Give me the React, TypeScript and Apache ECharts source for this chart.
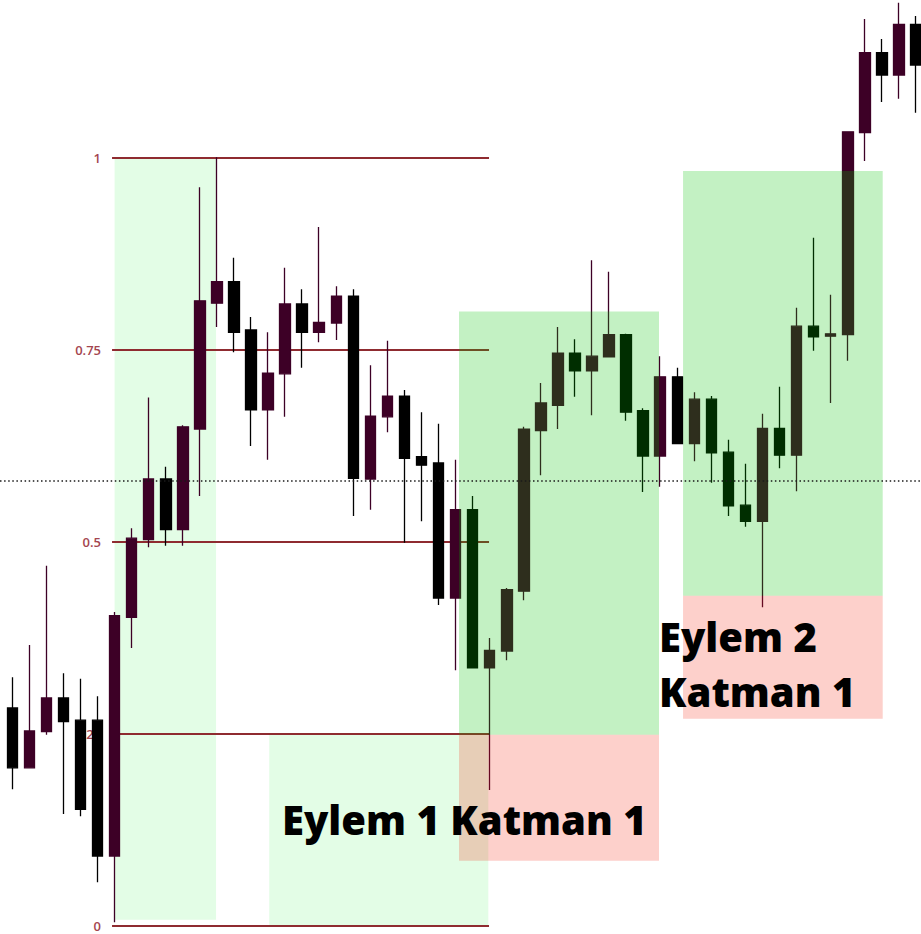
import React, { useEffect, useRef } from "react";
import * as echarts from "echarts";

// Candles (price expressed in Fibonacci units of the drawn retracement; index = bar number)
const opens = [0.284, 0.206, 0.253, 0.297, 0.268, 0.268, 0.091, 0.402, 0.503, 0.582,
  0.516, 0.647, 0.811, 0.839, 0.776, 0.672, 0.719, 0.810, 0.773, 0.785,
  0.820, 0.582, 0.663, 0.690, 0.611, 0.603, 0.427, 0.542, 0.336, 0.358,
  0.436, 0.645, 0.678, 0.746, 0.723, 0.741, 0.770, 0.671, 0.612, 0.715,
  0.628, 0.686, 0.617, 0.548, 0.527, 0.648, 0.613, 0.781, 0.768, 0.770,
  1.033, 1.137, 1.108, 1.174];
const closes = [0.206, 0.254, 0.297, 0.266, 0.152, 0.091, 0.404, 0.505, 0.582, 0.516,
  0.650, 0.814, 0.839, 0.773, 0.672, 0.720, 0.810, 0.773, 0.786, 0.820,
  0.583, 0.664, 0.690, 0.609, 0.600, 0.427, 0.542, 0.336, 0.359, 0.438,
  0.647, 0.681, 0.746, 0.723, 0.742, 0.770, 0.669, 0.612, 0.715, 0.628,
  0.686, 0.616, 0.547, 0.527, 0.648, 0.613, 0.781, 0.767, 0.771, 1.034,
  1.137, 1.108, 1.174, 1.121];
const lows = [0.178, 0.206, 0.249, 0.146, 0.143, 0.057, 0.005, 0.362, 0.493, 0.495,
  0.495, 0.560, 0.780, 0.747, 0.625, 0.607, 0.663, 0.727, 0.760, 0.763,
  0.534, 0.542, 0.643, 0.499, 0.527, 0.418, 0.333, 0.336, 0.177, 0.346,
  0.424, 0.587, 0.647, 0.689, 0.665, 0.741, 0.658, 0.565, 0.572, 0.628,
  0.605, 0.577, 0.534, 0.520, 0.415, 0.596, 0.566, 0.749, 0.681, 0.736,
  0.996, 1.073, 1.077, 1.059];
const highs = [0.324, 0.366, 0.469, 0.329, 0.322, 0.299, 0.409, 0.518, 0.688, 0.598,
  0.652, 0.962, 1.001, 0.870, 0.793, 0.773, 0.857, 0.829, 0.910, 0.833,
  0.829, 0.730, 0.762, 0.698, 0.669, 0.654, 0.607, 0.560, 0.375, 0.440,
  0.650, 0.707, 0.780, 0.764, 0.867, 0.852, 0.771, 0.674, 0.742, 0.727,
  0.695, 0.690, 0.633, 0.602, 0.667, 0.702, 0.805, 0.896, 0.822, 1.034,
  1.181, 1.155, 1.202, 1.185];

// Fibonacci retracement
const fibLevels = [1, 0.75, 0.5, 0.25, 0];
const fibLabels = ["1", "0.75", "0.5", "0.25", "0"];
const fibStart = 5.85;
const fibEnd = 27.96;

// Zones (x in bar index, y in Fibonacci units)
const zoneKinds = ["base", "base", "buy", "sell", "buy", "sell"];
const zoneX0 = [6.0, 15.07, 26.2, 26.2, 39.34, 39.34];
const zoneX1 = [11.95, 27.92, 37.93, 37.93, 51.05, 51.05];
const zoneBottom = [0.008, 0.0, 0.249, 0.085, 0.43, 0.27];
const zoneTop = [1.0, 0.249, 0.8, 0.249, 0.983, 0.43];

const dottedLevel = 0.579;

const texts = ["Eylem 1 Katman 1", "Eylem 2", "Katman 1"];

const zoneColors: Record<string, string> = {
  base: "#e3fde6",
  buy: "rgba(0,196,0,0.235)",
  sell: "rgba(245,40,20,0.22)",
};

export default function App() {
  const ref = useRef<HTMLDivElement>(null);
  useEffect(() => {
    document.body.style.margin = "0";
    const chart = echarts.init(ref.current!, null, { renderer: "svg" });
    const candleData = opens.map((o, i) => [i, o, closes[i], lows[i], highs[i]]);
    const zoneData = zoneX0.map((x0, i) => [x0, zoneX1[i], zoneBottom[i], zoneTop[i], i]);
    const under = zoneData.filter((d) => zoneKinds[d[4]] === "base");
    const over = zoneData.filter((d) => zoneKinds[d[4]] !== "base");
    const rectRender = (params: any, api: any) => {
      const p0 = api.coord([api.value(0), api.value(3)]);
      const p1 = api.coord([api.value(1), api.value(2)]);
      const kind = zoneKinds[api.value(4)];
      return {
        type: "rect",
        shape: { x: p0[0], y: p0[1], width: p1[0] - p0[0], height: p1[1] - p0[1] },
        style: { fill: zoneColors[kind] },
      };
    };
    const textFont = '800 40px "Open Sans"';
    chart.setOption({
      animation: false,
      grid: { left: 0, right: 0, top: 0, bottom: 0 },
      xAxis: { type: "value", min: -0.7214, max: 53.296, show: false },
      yAxis: { type: "value", min: -0.0104, max: 1.2057, show: false, scale: true },
      tooltip: { show: false },
      series: [
        {
          type: "custom",
          z: 1,
          silent: true,
          data: under,
          renderItem: rectRender,
        },
        {
          type: "custom",
          z: 1,
          silent: true,
          data: fibLevels.map((v, i) => [v, i]),
          renderItem: (params: any, api: any) => {
            const lvl = api.value(0);
            const i = api.value(1);
            const a = api.coord([fibStart, lvl]);
            const b = api.coord([fibEnd, lvl]);
            return {
              type: "group",
              children: [
                {
                  type: "line",
                  shape: { x1: a[0], y1: a[1], x2: b[0], y2: b[1] },
                  style: { stroke: "#8f2b30", lineWidth: 2 },
                },
                {
                  type: "text",
                  x: a[0] - 11,
                  y: a[1],
                  style: {
                    text: fibLabels[i],
                    fill: "#a4454f",
                    font: '600 13px "Open Sans"',
                    align: "right",
                    verticalAlign: "middle",
                    textAlign: "right",
                    textVerticalAlign: "middle",
                  },
                },
              ],
            };
          },
        },
        {
          type: "candlestick",
          z: 2,
          barWidth: 11,
          data: candleData,
          itemStyle: {
            color: "#3d0026",
            color0: "#000000",
            borderColor: "#3d0026",
            borderColor0: "#000000",
            borderWidth: 1.3,
          },
          markLine: {
            silent: true,
            symbol: ["none", "none"],
            label: { show: false },
            lineStyle: { color: "#1a1a1a", width: 1.5, type: [1.5, 2.6] },
            data: [{ yAxis: dottedLevel }],
          },
        },
        {
          type: "custom",
          z: 3,
          silent: true,
          data: over,
          renderItem: rectRender,
        },
      ],
      graphic: [
        {
          type: "text",
          x: 282,
          y: 819,
          z: 10,
          style: { text: texts[0], font: textFont, fill: "#000", verticalAlign: "middle", textVerticalAlign: "middle" },
        },
        {
          type: "text",
          x: 659,
          y: 636,
          z: 10,
          style: { text: texts[1], font: textFont, fill: "#000", verticalAlign: "middle", textVerticalAlign: "middle" },
        },
        {
          type: "text",
          x: 659,
          y: 691,
          z: 10,
          style: { text: texts[2], font: textFont, fill: "#000", verticalAlign: "middle", textVerticalAlign: "middle" },
        },
      ],
    });
    return () => chart.dispose();
  }, []);
  return (
    <div style={{ position: "fixed", left: 0, top: 0, width: 921, height: 934, background: "#fff" }}>
      <div ref={ref} style={{ width: 921, height: 934 }} />
    </div>
  );
}
